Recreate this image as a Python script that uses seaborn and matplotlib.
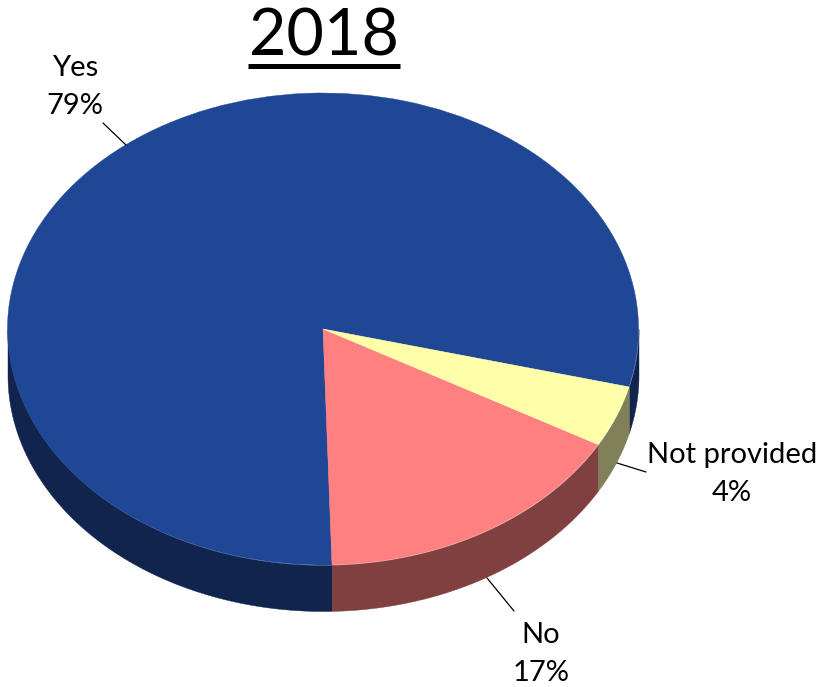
import numpy as np
import matplotlib
matplotlib.use("Agg")
import matplotlib.pyplot as plt
import seaborn as sns

# ---- data ----
categories = ["Yes", "No", "Not provided"]
shares = [79.4, 16.4, 4.2]
shown_percent = [79, 17, 4]
title_text = "2018"
top_colors = ["#204795", "#FF8080", "#FFFFAA"]
side_colors = ["#10244E", "#804040", "#808059"]

W, H = 825, 687
CX, CY, RX, RY = 323, 329, 315.5, 236
DEPTH = 46 / RY
START = -14.2

sns.set_theme(style="white")
plt.rcParams["font.family"] = ["Lato", "DejaVu Sans"]

fig = plt.figure(figsize=(W / 100, H / 100), dpi=100, facecolor="white")
ax = fig.add_axes([0, 0, 1, 1])


def px(x, y):
    return (x - CX) / RX, (CY - y) / RY


# side wall: visible only on the front half of the ellipse
edges = START + np.concatenate([[0], np.cumsum(shares)]) * 360 / np.sum(shares)
for i, color in enumerate(sns.color_palette(side_colors)):
    for shift in (0, 360):
        p, q = max(edges[i] + shift, 180), min(edges[i + 1] + shift, 360)
        if q > p:
            t = np.radians(np.linspace(p, q, 200))
            xs = np.cos(t)
            ys = np.sin(t)
            ax.fill_between(xs, ys, ys - DEPTH, color=color, lw=0.3, zorder=1)

wedges, _ = ax.pie(shares, colors=sns.color_palette(top_colors), startangle=START, radius=1,
                   counterclock=True, normalize=True)
for w in wedges:
    w.set_edgecolor(w.get_facecolor())
    w.set_linewidth(0.3)
    w.set_zorder(2)

ax.set_aspect("auto")
ax.set_xlim(px(0, 0)[0], px(W, 0)[0])
ax.set_ylim(px(0, H)[1], px(0, 0)[1])
ax.set_axis_off()

# leader lines
leaders = [((103, 123), (126, 145)), ((487, 578), (514, 611)), ((617, 463), (646, 472))]
for (x0, y0), (x1, y1) in leaders:
    p0, p1 = px(x0, y0), px(x1, y1)
    ax.plot([p0[0], p1[0]], [p0[1], p1[1]], color="black", lw=0.9, zorder=3)

# labels
label_pos = [(75, 87), (541, 654), (732, 474)]
for name, pct, (x, y) in zip(categories, shown_percent, label_pos):
    fig.text(x / W, 1 - y / H, f"{name}\n{pct}%", ha="center", va="center",
             fontsize=21, color="black", linespacing=1.6)

# underlined title
fig.text(324 / W, 1 - 37 / H, title_text, ha="center", va="center",
         fontsize=46.5, color="black")
p0, p1 = px(248, 65.5), px(400, 65.5)
ax.plot([p0[0], p1[0]], [p0[1], p1[1]], color="black", lw=3.6, solid_capstyle="butt", zorder=3)

fig.savefig("out.png", dpi=100)
